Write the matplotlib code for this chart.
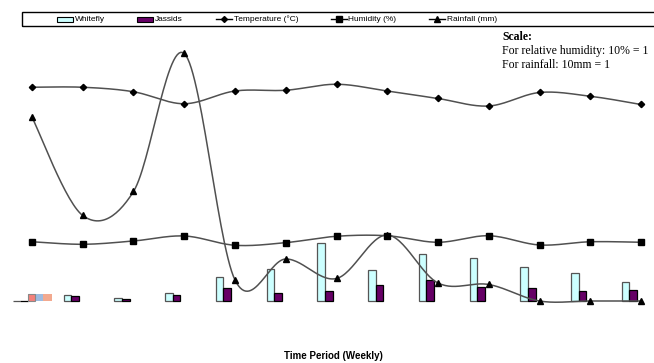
import numpy as np
import matplotlib
matplotlib.use("Agg")
import matplotlib.pyplot as plt
from matplotlib import font_manager
from matplotlib.patches import Rectangle
from matplotlib.lines import Line2D

# weekly observations (13 weeks)
weeks = np.arange(13)
whitefly = [0.05, 0.84, 0.36, 1.11, 3.16, 4.27, 7.69, 4.13, 6.27, 5.69, 4.53, 3.73, 2.49]
jassids = [0.0, 0.71, 0.27, 0.84, 1.77, 1.11, 1.33, 2.13, 2.76, 1.87, 1.77, 1.33, 1.47]
temperature = [28.5, 28.5, 27.9, 26.3, 28.0, 28.1, 28.9, 28.0, 27.0, 26.0, 27.8, 27.3, 26.2]
humidity = [79, 75.6, 80, 86.7, 74.3, 77.8, 86.3, 87, 78.3, 87, 74.7, 79, 78.3]   # %
rainfall = [245, 114, 146, 330, 28, 56, 30, 88, 24, 22, 0, 0, 0]                # mm
# stray coloured block next to first week in the source image
stray_colors = ['#f4807a', '#9dbbe0', '#f2a98f']
stray_height = [0.9, 0.9, 0.9]

W, H = 654, 363


def smooth(x, y, n=30):
    # Catmull-Rom style bezier, like the "smoothed line" option in spreadsheets
    x = np.asarray(x, float)
    y = np.asarray(y, float)
    px = np.concatenate([[x[0]], x, [x[-1]]])
    py = np.concatenate([[y[0]], y, [y[-1]]])
    xs, ys = [], []
    t = np.linspace(0, 1, n)
    for i in range(1, len(px) - 2):
        x0, y0 = px[i], py[i]
        x3, y3 = px[i + 1], py[i + 1]
        x1 = x0 + (px[i + 1] - px[i - 1]) / 6
        y1 = y0 + (py[i + 1] - py[i - 1]) / 6
        x2 = x3 - (px[i + 2] - px[i]) / 6
        y2 = y3 - (py[i + 2] - py[i]) / 6
        b0 = (1 - t) ** 3
        b1 = 3 * (1 - t) ** 2 * t
        b2 = 3 * (1 - t) * t ** 2
        b3 = t ** 3
        xs.append(b0 * x0 + b1 * x1 + b2 * x2 + b3 * x3)
        ys.append(b0 * y0 + b1 * y1 + b2 * y2 + b3 * y3)
    return np.concatenate(xs), np.concatenate(ys)


names = {f.name for f in font_manager.fontManager.ttflist}
if 'Liberation Sans Narrow' in names:
    leg_font, leg_size = 'Liberation Sans Narrow', 7
else:
    leg_font, leg_size = 'Liberation Sans', 6

fig = plt.figure(figsize=(W / 100, H / 100), dpi=100)
ax = fig.add_axes([0, 0, 1, 1])
ax.set_xlim(-0.6305, 12.256)
ax.set_ylim(-8.267, 40.133)
ax.axis('off')

bw = 0.15
shift = -0.227
ax.bar(weeks + shift - bw / 2, whitefly, width=bw, color='#ccffff',
       edgecolor='#555555', linewidth=0.9, zorder=2)
ax.bar(weeks + shift + bw / 2, jassids, width=bw, color='#660066',
       edgecolor='#000000', linewidth=0.9, zorder=2)

sx = [-0.01, 0.142, 0.305]
sw = [0.144, 0.164, 0.164]
ax.bar(sx, stray_height, width=sw, color=stray_colors, linewidth=0, zorder=2)
ax.bar(sx[0], stray_height[0], width=sw[0], fill=False, edgecolor='#888888',
       linewidth=0.8, zorder=2)

line_c = '#505050'
series = [
    (temperature, 'D', 3.2),
    (np.array(humidity) / 10, 's', 4.3),
    (np.array(rainfall) / 10, '^', 4.8),
]
for vals, mk, ms in series:
    sx_, sy_ = smooth(weeks, vals)
    ax.plot(sx_, sy_, color=line_c, lw=1.1, zorder=3)
    ax.plot(weeks, vals, linestyle='none', marker=mk, ms=ms, color='black', zorder=4)

# legend box along the top
def fx(p):
    return p / W


def fy(p):
    return 1 - p / H


fig.patches.append(Rectangle((fx(22), fy(25.5)), fx(660) - fx(22), fy(12.5) - fy(25.5),
                             transform=fig.transFigure, fill=False, edgecolor='black',
                             linewidth=1.0))
ly = 19.3
for x0, fc in [(57, '#ccffff'), (137, '#660066')]:
    fig.patches.append(Rectangle((fx(x0), fy(22)), fx(16), fy(17) - fy(22),
                                 transform=fig.transFigure, facecolor=fc,
                                 edgecolor='black', linewidth=0.8))
for x0, mk, ms in [(216, 'D', 3.0), (331, 's', 3.8), (429, '^', 4.2)]:
    fig.lines.append(Line2D([fx(x0), fx(x0 + 16)], [fy(ly), fy(ly)],
                            transform=fig.transFigure, color='black', lw=1.0))
    fig.lines.append(Line2D([fx(x0 + 8)], [fy(ly)], transform=fig.transFigure,
                            marker=mk, ms=ms, color='black', linestyle='none'))
for x0, label in [(74.5, 'Whitefly'), (154.5, 'Jassids'), (234, 'Temperature (°C)'),
                  (348.5, 'Humidity (%)'), (447, 'Rainfall (mm)')]:
    fig.text(fx(x0), fy(ly), label, fontsize=leg_size, family=leg_font,
             ha='left', va='center')

# scale note
fig.text(fx(502), fy(37), 'Scale:', fontsize=8.5, family='Liberation Serif',
         weight='bold', ha='left', va='center')
fig.text(fx(502), fy(51), 'For relative humidity: 10% = 1', fontsize=8.5,
         family='Liberation Serif', ha='left', va='center')
fig.text(fx(502), fy(65), 'For rainfall: 10mm = 1', fontsize=8.5,
         family='Liberation Serif', ha='left', va='center')

fig.text(fx(333), fy(356), 'Time Period (Weekly)', fontsize=7, family='Liberation Sans',
         weight='bold', ha='center', va='center')

fig.savefig('out.png', dpi=100)
